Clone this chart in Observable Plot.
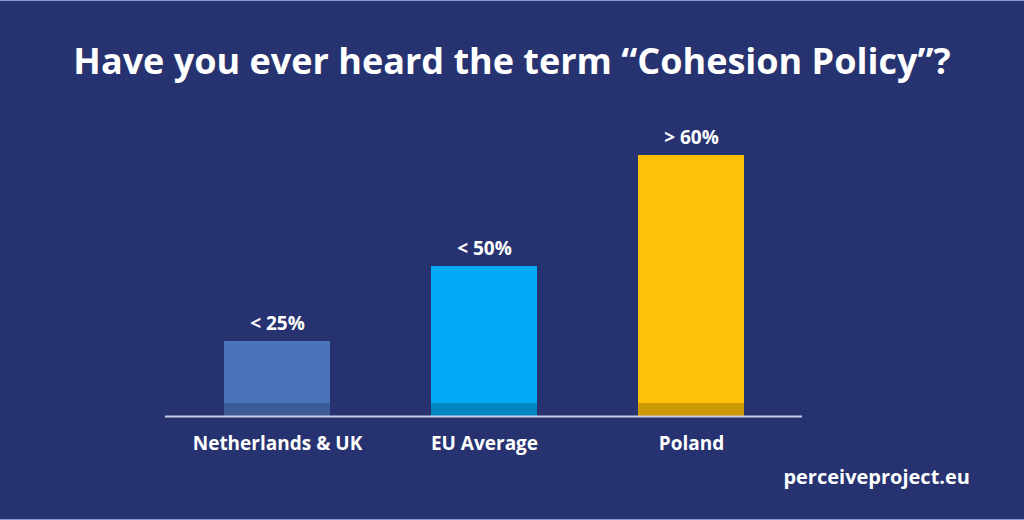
<!DOCTYPE html>
<html>
<head>
<meta charset="utf-8">
<script src="https://cdn.jsdelivr.net/npm/d3@7"></script>
<script src="https://cdn.jsdelivr.net/npm/@observablehq/plot@0.6"></script>
<style>
  html, body { margin: 0; padding: 0; }
  body { width: 1024px; height: 520px; overflow: hidden; background: #263370; font-family: "Open Sans", sans-serif; }
  #wrap { position: relative; width: 1024px; height: 520px; box-sizing: border-box; border-top: 1px solid #8c97c8; border-bottom: 1px solid #8c97c8; }
  #title { position: absolute; top: 0; left: 0; width: 1024px; height: 100px; box-sizing: border-box; padding-top: 37px; text-align: center; color: #fff; font-weight: 700; font-size: 36px; line-height: 46px; }
  #chart { position: absolute; top: 100px; left: 0; }
  #footer { position: absolute; right: 54px; top: 462px; color: #fff; font-weight: 700; font-size: 20px; line-height: 28px; }
</style>
</head>
<body>
<div id="wrap">
  <div id="title">Have you ever heard the term “Cohesion Policy”?</div>
  <div id="chart"></div>
  <div id="footer">perceiveproject.eu</div>
</div>
<script>
const categories = ["Netherlands & UK", "EU Average", "Poland"];
const values = [25, 50, 87];
const valueLabels = ["< 25%", "< 50%", "> 60%"];
const colors = ["#4a74b9", "#03a9f4", "#ffc107"];
const baseBand = 4.3;

const data = categories.map((c, i) => ({category: c, value: values[i], label: valueLabels[i], color: colors[i]}));

const plot = Plot.plot({
  width: 1024,
  height: 420,
  marginLeft: 165,
  marginRight: 222,
  marginTop: 15,
  marginBottom: 105,
  style: {background: "transparent", color: "#fff", fontFamily: "'Open Sans', sans-serif", overflow: "visible"},
  x: {domain: categories, paddingInner: 0.49, paddingOuter: 0.28, axis: null},
  y: {domain: [0, 100], axis: null},
  marks: [
    Plot.barY(data, {x: "category", y: "value", fill: "color"}),
    Plot.barY(data, {x: "category", y: () => baseBand, fill: "#000", fillOpacity: 0.2}),
    Plot.ruleY([0], {stroke: "#c9cdea", strokeWidth: 2}),
    Plot.text(data, {x: "category", y: "value", text: "label", dy: -18, fill: "#fff", fontSize: 19, fontWeight: 700}),
    Plot.axisX({tickSize: 0, tickPadding: 20, fontSize: 19, fontWeight: 700, fill: "#fff", label: null})
  ]
});
document.getElementById("chart").appendChild(plot);
</script>
</body>
</html>
